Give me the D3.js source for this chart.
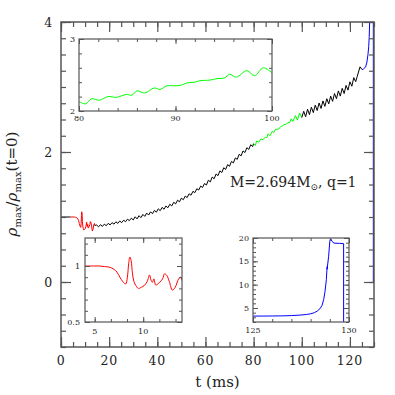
<!DOCTYPE html>
<html>
<head>
<meta charset="utf-8">
<script src="https://cdn.jsdelivr.net/npm/d3@7"></script>
<style>
body { margin: 0; background: #fff; }
text { fill: #222; }
</style>
</head>
<body>
<svg id="main" width="395" height="395"></svg>
<script>
// rho_max / rho_max(t=0) against t (ms)
var quietSeg = [[0, 1.0], [4.0, 1.0]];

var redSeg = [[4.0,1.0],[5.0,1.0],[5.5,1.0],[6.0,0.995],[6.5,0.99],[7.0,0.97],[7.3,0.945],[7.6,0.90],
    [7.9,0.86],[8.2,0.84],[8.37,0.90],[8.5,1.02],[8.62,1.08],[8.75,1.05],[8.9,0.93],[9.05,0.86],
    [9.25,0.825],[9.5,0.80],[9.8,0.81],[10.1,0.825],[10.4,0.86],[10.65,0.92],[10.8,0.875],[10.95,0.855],
    [11.1,0.885],[11.3,0.83],[11.7,0.855],[12.0,0.885],[12.2,0.93],[12.4,0.92],[12.7,0.86],[13.0,0.785],
    [13.3,0.81],[13.65,0.885],[13.9,0.90],[14.0,0.87]];

var blackSeg1 = [[14.0,0.87],[14.8,0.877],[15.6,0.849],[16.4,0.882],[17.2,0.856],[18.0,0.890],[18.8,0.866],
    [19.6,0.902],[20.4,0.878],[21.2,0.914],[22.0,0.890],[22.8,0.926],[23.6,0.902],[24.4,0.938],[25.2,0.914],
    [26.0,0.950],[26.8,0.928],[27.6,0.966],[28.4,0.944],[29.2,0.982],[30.0,0.955],[30.8,1.003],[31.6,0.971],
    [32.4,1.020],[33.2,0.990],[34.0,1.040],[34.8,1.010],[35.6,1.060],[36.4,1.030],[37.2,1.080],[38.0,1.050],
    [38.8,1.102],[39.6,1.074],[40.4,1.126],[41.2,1.097],[42.0,1.148],[42.8,1.119],[43.6,1.170],[44.4,1.142],
    [45.2,1.196],[46.0,1.170],[46.8,1.226],[47.6,1.202],[48.4,1.258],[49.2,1.234],[50.0,1.290],[50.8,1.266],
    [51.6,1.322],[52.4,1.299],[53.2,1.357],[54.0,1.335],[54.8,1.395],[55.6,1.375],[56.4,1.435],[57.2,1.415],
    [58.0,1.475],[58.8,1.455],[59.6,1.515],[60.4,1.492],[61.2,1.566],[62.0,1.540],[62.8,1.614],[63.6,1.588],
    [64.4,1.662],[65.2,1.636],[66.0,1.710],[66.8,1.684],[67.6,1.758],[68.4,1.732],[69.2,1.806],[70.0,1.780],
    [70.8,1.856],[71.6,1.832],[72.4,1.909],[73.2,1.887],[74.0,1.965],[74.8,1.941],[75.6,2.017],[76.4,1.992],
    [77.2,2.066],[78.0,2.040],[78.8,2.112],[79.6,2.084],[80.0,2.13]];

var greenSeg = [[80.0,2.13],[80.7,2.10],[81.3,2.17],[82.1,2.15],[83.0,2.20],[83.9,2.19],[84.9,2.23],
    [85.5,2.22],[86.0,2.28],[86.8,2.25],[87.8,2.32],[88.4,2.30],[89.1,2.35],[89.8,2.35],[90.5,2.355],
    [91.2,2.39],[92.0,2.40],[92.5,2.42],[93.6,2.43],[94.3,2.45],[95.1,2.46],[95.6,2.51],[96.3,2.47],
    [97.4,2.56],[98.2,2.49],[99.1,2.60],[100.0,2.53]];

var blackSeg2 = [[100.0,2.53],[100.8,2.626],[101.6,2.542],[102.4,2.658],[103.2,2.574],[104.0,2.690],
    [104.8,2.606],[105.6,2.722],[106.4,2.638],[107.2,2.754],[108.0,2.670],[108.8,2.786],[109.6,2.702],
    [110.4,2.820],[111.2,2.740],[112.0,2.860],[112.8,2.780],[113.6,2.900],[114.4,2.820],[115.2,2.940],
    [116.0,2.860],[116.8,2.980],[117.6,2.900],[118.4,3.024],[119.2,2.952],[120.0,3.080],[120.8,3.012],
    [121.6,3.144],[122.4,3.082],[123.0,3.16],[124.2,3.31],[125.0,3.27]];

var blueSeg = [[125.0,3.27],[125.5,3.27],[126.0,3.29],[126.5,3.31],[127.0,3.37],[127.5,3.50],[127.8,3.62],
    [128.0,3.76],[128.2,4.0],[128.35,4.35],[128.5,4.9],[128.6,5.6],[128.68,6.8],[128.75,8.5],[128.82,11.1],
    [128.85,13.2],[128.87,13.9],[128.86,13.3],[128.94,16.1],[129.0,19.3],[129.05,19.85],[129.11,19.3],
    [129.22,18.9],[129.5,18.85],[129.72,18.8],[129.72,0]];

var mainXLabels = [0, 20, 40, 60, 80, 100, 120];
var mainYLabels = [0, 2, 4];
var zoom1XLabels = [80, 90, 100], zoom1YLabels = [2, 3];
var zoom2XLabels = [5, 10], zoom2YLabels = [0.5, 1];
var zoom3XLabels = [125, 130], zoom3YLabels = [5, 10, 15, 20];

var svg = d3.select("#main");
var frameColor = "#555";

// one boxed panel with inward ticks on all four sides
function panel(cfg) {
    var w = cfg.w, h = cfg.h;
    var x = d3.scaleLinear().domain(cfg.xd).range([0, w]),
        y = d3.scaleLinear().domain(cfg.yd).range([h, 0]);
    var g = svg.append("g").attr("transform", "translate(" + cfg.left + "," + cfg.top + ")");
    g.append("rect").attr("width", w).attr("height", h).attr("fill", "#fff");

    var id = "clip" + cfg.name;
    g.append("clipPath").attr("id", id).append("rect").attr("width", w).attr("height", h);
    var plot = g.append("g").attr("clip-path", "url(#" + id + ")");

    function tickSet(vals, len) {
        var t = g.append("g").attr("class", "ticks");
        t.append("g").attr("transform", "translate(0," + h + ")")
            .call(d3.axisBottom(x).tickValues(vals).tickSize(-len).tickFormat(""));
        t.append("g")
            .call(d3.axisTop(x).tickValues(vals).tickSize(-len).tickFormat(""));
        return t;
    }
    function tickSetY(vals, len) {
        var t = g.append("g").attr("class", "ticks");
        t.append("g")
            .call(d3.axisLeft(y).tickValues(vals).tickSize(-len).tickFormat(""));
        t.append("g").attr("transform", "translate(" + w + ",0)")
            .call(d3.axisRight(y).tickValues(vals).tickSize(-len).tickFormat(""));
        return t;
    }
    tickSet(cfg.xMinor, cfg.minorLen);
    tickSet(cfg.xLabels, cfg.majorLen);
    tickSetY(cfg.yMinor, cfg.minorLen);
    tickSetY(cfg.yLabels, cfg.majorLen);
    g.selectAll(".ticks .domain").remove();
    g.selectAll(".ticks line").attr("stroke", frameColor).attr("stroke-width", cfg.tickW);

    g.append("rect").attr("width", w).attr("height", h)
        .attr("fill", "none").attr("stroke", frameColor).attr("stroke-width", cfg.frameW);

    g.selectAll(".xl").data(cfg.xLabels).enter().append("text")
        .attr("x", function(d) { return x(d); })
        .attr("y", h + cfg.xPad)
        .attr("text-anchor", "middle")
        .style("font", cfg.font).style("letter-spacing", cfg.spacing)
        .text(function(d) { return d; });
    g.selectAll(".yl").data(cfg.yLabels).enter().append("text")
        .attr("x", -cfg.yPad)
        .attr("y", function(d) { return y(d); })
        .attr("dy", "0.36em")
        .attr("text-anchor", "end")
        .style("font", cfg.font).style("letter-spacing", cfg.spacing)
        .text(function(d) { return d; });

    var line = d3.line()
        .x(function(d) { return x(d[0]); })
        .y(function(d) { return y(d[1]); });
    if (cfg.smooth) line.curve(d3.curveCatmullRom.alpha(0.5));
    cfg.series.forEach(function(s) {
        plot.append("path")
            .attr("d", line(s[0]))
            .attr("fill", "none")
            .attr("stroke", s[1])
            .attr("stroke-width", cfg.lineW)
            .attr("stroke-linejoin", "round");
    });
    return g;
}

var mainG = panel({
    name: "main", left: 61, top: 22, w: 313, h: 325,
    xd: [0, 130], yd: [-1, 4],
    xLabels: mainXLabels, yLabels: mainYLabels,
    xMinor: d3.range(0, 131, 5), yMinor: d3.range(-1, 4.01, 0.25),
    majorLen: 10, minorLen: 5, tickW: 1.2, frameW: 1.5,
    font: "12.5px 'DejaVu Serif'", spacing: "0.8px", xPad: 18, yPad: 8,
    lineW: 1,
    series: [[quietSeg, "#000"], [redSeg, "#ff0000"], [blackSeg1, "#000"],
             [greenSeg, "#00ff00"], [blackSeg2, "#000"], [blueSeg, "#0000ff"]]
});

panel({
    name: "z1", left: 79, top: 39, w: 193, h: 72,
    xd: [80, 100], yd: [2, 3],
    xLabels: zoom1XLabels, yLabels: zoom1YLabels,
    xMinor: d3.range(80, 101, 2), yMinor: d3.range(2, 3.01, 0.2),
    majorLen: 5, minorLen: 3, tickW: 1, frameW: 1.2,
    font: "8px 'DejaVu Serif'", spacing: "0px", xPad: 10, yPad: 4,
    lineW: 1, smooth: true,
    series: [[greenSeg, "#00ff00"]]
});

panel({
    name: "z2", left: 85, top: 238, w: 97, h: 84,
    xd: [4, 14], yd: [0.5, 1.25],
    xLabels: zoom2XLabels, yLabels: zoom2YLabels,
    xMinor: d3.range(5, 14, 5 / 3), yMinor: d3.range(0.5, 1.26, 0.1),
    majorLen: 5, minorLen: 3, tickW: 1, frameW: 1.2,
    font: "8px 'DejaVu Serif'", spacing: "0px", xPad: 12, yPad: 5,
    lineW: 1, smooth: true,
    series: [[redSeg, "#ff0000"]]
});

panel({
    name: "z3", left: 253, top: 238, w: 96, h: 84,
    xd: [125, 130], yd: [2, 20],
    xLabels: zoom3XLabels, yLabels: zoom3YLabels,
    xMinor: d3.range(125, 130.1, 1), yMinor: d3.range(2, 20.1, 1),
    majorLen: 5, minorLen: 3, tickW: 1, frameW: 1.2,
    font: "8px 'DejaVu Serif'", spacing: "0px", xPad: 11, yPad: 4,
    lineW: 1, smooth: false,
    series: [[blueSeg, "#0000ff"]]
});

// axis titles
svg.append("text")
    .attr("x", 217.5).attr("y", 387)
    .attr("text-anchor", "middle")
    .style("font", "15px 'DejaVu Serif'")
    .text("t  (ms)");

var yTitle = svg.append("text")
    .attr("transform", "translate(17,184) rotate(-90)")
    .attr("text-anchor", "middle")
    .style("font", "15px 'DejaVu Serif'");
yTitle.append("tspan").style("font-style", "italic").text("ρ");
yTitle.append("tspan").attr("dy", 4).style("font-size", "10px").text("max");
yTitle.append("tspan").attr("dy", -4).text("/");
yTitle.append("tspan").style("font-style", "italic").text("ρ");
yTitle.append("tspan").attr("dy", 4).style("font-size", "10px").text("max");
yTitle.append("tspan").attr("dy", -4).text("(t=0)");

// model annotation
var note = svg.append("text")
    .attr("x", 230).attr("y", 187)
    .style("font", "14px 'DejaVu Serif'");
note.append("tspan").text("M=2.694M");
note.append("tspan").attr("dy", 3).style("font-size", "9px").text("⊙");
note.append("tspan").attr("dy", -3).text(",  q=1");
</script>
</body>
</html>
